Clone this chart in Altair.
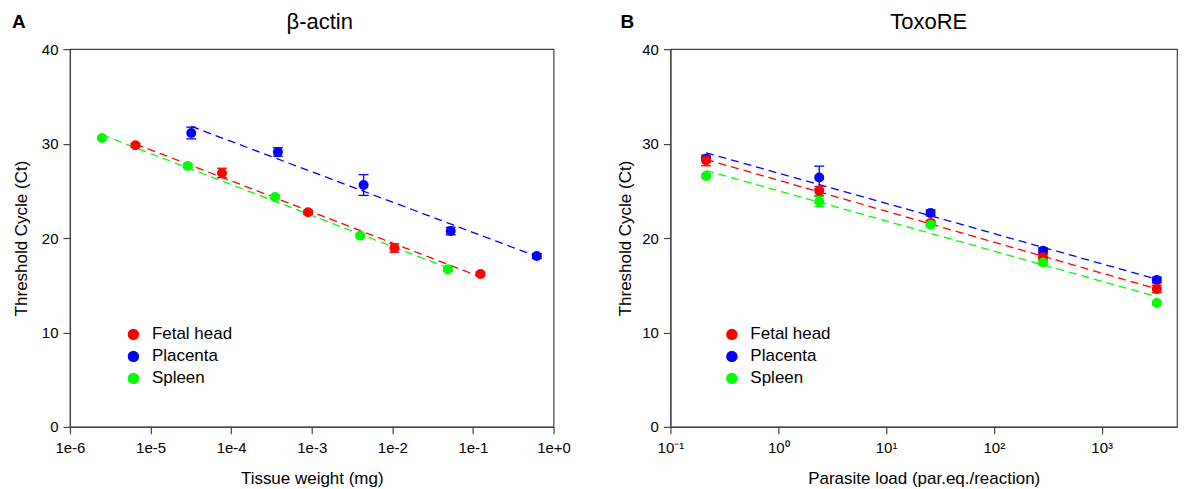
import json
import altair as alt
import pandas as pd

FONT = "Liberation Sans"

series_names = ["Fetal head", "Placenta", "Spleen"]
series_colors = ["#ff0000", "#0000ff", "#00ff00"]
draw_order = ["Placenta", "Fetal head", "Spleen"]

# Panel A: beta-actin, x = tissue weight (mg)
a_fetal_x = [6.5e-6, 7.7e-5, 9.0e-4, 1.06e-2, 0.124]
a_fetal_ct = [29.82, 26.89, 22.72, 18.94, 16.19]
a_fetal_err = [0.2, 0.5, 0.2, 0.45, 0.2]
a_placenta_x = [3.2e-5, 3.8e-4, 4.4e-3, 0.053, 0.62]
a_placenta_ct = [31.12, 29.11, 25.61, 20.74, 18.09]
a_placenta_err = [0.62, 0.45, 1.1, 0.4, 0.25]
a_spleen_x = [2.5e-6, 2.9e-5, 3.5e-4, 4.0e-3, 0.049]
a_spleen_ct = [30.59, 27.63, 24.34, 20.25, 16.68]
a_spleen_err = [0.15, 0.2, 0.2, 0.2, 0.2]
a_ticks = [1e-6, 1e-5, 1e-4, 1e-3, 1e-2, 1e-1, 1e0]
a_tick_labels = ["1e-6", "1e-5", "1e-4", "1e-3", "1e-2", "1e-1", "1e+0"]

# Panel B: ToxoRE, x = parasite load
b_fetal_x = [0.214, 2.4, 25.9, 286, 3250]
b_fetal_ct = [28.22, 24.97, 21.6, 17.95, 14.61]
b_fetal_err = [0.57, 0.5, 0.2, 0.35, 0.4]
b_placenta_x = [0.214, 2.4, 25.9, 286, 3250]
b_placenta_ct = [28.4, 26.41, 22.66, 18.65, 15.56]
b_placenta_err = [0.2, 1.2, 0.3, 0.3, 0.3]
b_spleen_x = [0.214, 2.4, 25.9, 286, 3250]
b_spleen_ct = [26.56, 23.86, 21.41, 17.41, 13.12]
b_spleen_err = [0.2, 0.5, 0.2, 0.3, 0.2]
b_ticks = [0.1, 1, 10, 100, 1000]
b_tick_labels = ["10⁻¹", "10⁰", "10¹", "10²", "10³"]

y_ticks = [0, 10, 20, 30, 40]

color_of = dict(zip(series_names, series_colors))


def table(groups):
    frames = []
    for name in draw_order:
        xs, cts, errs = groups[name]
        d = pd.DataFrame({"x": xs, "ct": cts, "err": errs})
        d["series"] = name
        frames.append(d)
    df = pd.concat(frames, ignore_index=True)
    df["lo"] = df["ct"] - df["err"]
    df["hi"] = df["ct"] + df["err"]
    df["hex"] = df["series"].map(color_of)
    return df


a_df = table({
    "Fetal head": (a_fetal_x, a_fetal_ct, a_fetal_err),
    "Placenta": (a_placenta_x, a_placenta_ct, a_placenta_err),
    "Spleen": (a_spleen_x, a_spleen_ct, a_spleen_err),
})
b_df = table({
    "Fetal head": (b_fetal_x, b_fetal_ct, b_fetal_err),
    "Placenta": (b_placenta_x, b_placenta_ct, b_placenta_err),
    "Spleen": (b_spleen_x, b_spleen_ct, b_spleen_err),
})

HEIGHT = 378


def panel(df, xdom, ticks, tick_labels, ticks_offset, xtitle, title, letter,
          width, legend_x, letter_x, ytitle_pad, title_shift):
    label_expr = f"{json.dumps(tick_labels)}[round(log(datum.value)/LN10)+{ticks_offset}]"
    xscale = alt.Scale(type="log", domain=xdom, nice=False)
    xaxis = alt.Axis(values=ticks, labelExpr=label_expr, title=xtitle,
                     labelFlush=False, labelOverlap=False, titlePadding=15,
                     labelPadding=7)
    yscale = alt.Scale(domain=[0, 40], nice=False)
    yaxis = alt.Axis(values=y_ticks, title="Threshold Cycle (Ct)",
                     titlePadding=ytitle_pad, labelPadding=5)
    X = alt.X("x:Q", scale=xscale, axis=xaxis)
    sc = alt.Scale(domain=series_names, range=series_colors)

    base = alt.Chart(df)
    lines = base.transform_regression(
        "x", "ct", groupby=["series", "hex"], method="log"
    ).mark_line(strokeDash=[8, 5], strokeWidth=1.3).encode(
        x=X,
        y=alt.Y("ct:Q", scale=yscale, axis=yaxis),
        stroke=alt.Stroke("hex:N", scale=None),
        detail="series:N",
    )
    bars = base.mark_rule(strokeWidth=1.3).encode(
        x=X,
        y=alt.Y("lo:Q", scale=yscale, axis=yaxis),
        y2="hi:Q",
        stroke=alt.Stroke("hex:N", scale=None),
    )
    cap_lo = base.mark_tick(orient="horizontal", size=10, thickness=1.3, opacity=1).encode(
        x=X,
        y=alt.Y("lo:Q", scale=yscale, axis=yaxis),
        fill=alt.Fill("hex:N", scale=None),
    )
    cap_hi = base.mark_tick(orient="horizontal", size=10, thickness=1.3, opacity=1).encode(
        x=X,
        y=alt.Y("hi:Q", scale=yscale, axis=yaxis),
        fill=alt.Fill("hex:N", scale=None),
    )
    points = base.mark_circle(size=100, opacity=1).encode(
        x=X,
        y=alt.Y("ct:Q", scale=yscale, axis=yaxis),
        color=alt.Color(
            "series:N", scale=sc,
            legend=alt.Legend(
                orient="none", legendX=legend_x, legendY=277, title=None,
                symbolType="circle", symbolSize=130, symbolStrokeWidth=0,
                symbolOpacity=1, labelFontSize=17, labelFont=FONT,
                labelColor="#000", rowPadding=4, labelOffset=10, padding=0,
            ),
        ),
    )
    letter_mark = alt.Chart(pd.DataFrame({"t": [letter]})).mark_text(
        align="left", baseline="middle", fontSize=19, fontWeight="bold",
        font=FONT, color="#000",
    ).encode(x=alt.value(letter_x), y=alt.value(-27), text="t:N")
    title_mark = alt.Chart(pd.DataFrame({"t": [title]})).mark_text(
        align="center", baseline="middle", fontSize=22, font=FONT, color="#000",
    ).encode(x=alt.value(width / 2 + title_shift), y=alt.value(-27), text="t:N")

    return alt.layer(lines, bars, cap_lo, cap_hi, points, letter_mark,
                     title_mark).properties(width=width, height=HEIGHT)


pa = panel(a_df, [1e-6, 1.0], a_ticks, a_tick_labels, 6, "Tissue weight (mg)",
           "β-actin", "A", 484, 55, -58, 11, 8)
pb = panel(b_df, [0.1, 5000], b_ticks, b_tick_labels, 1,
           "Parasite load (par.eq./reaction)", "ToxoRE", "B", 507, 53, -50, 7, 5)

chart = alt.hconcat(pa, pb, spacing=117, bounds="flush").resolve_scale(
    color="independent"
).properties(
    padding={"left": 3, "top": 2, "right": 0, "bottom": 0}
).configure_axis(
    labelFont=FONT, titleFont=FONT, labelFontSize=15, titleFontSize=17,
    titleFontWeight="normal", labelColor="#000", titleColor="#000",
    tickSize=7, tickColor="#444", domainColor="#444", grid=False,
    tickWidth=1.2, domainWidth=1.2,
).configure_view(stroke="#444", strokeWidth=1.2)

chart.save("out.html", embed_options={"renderer": "svg", "actions": False})
